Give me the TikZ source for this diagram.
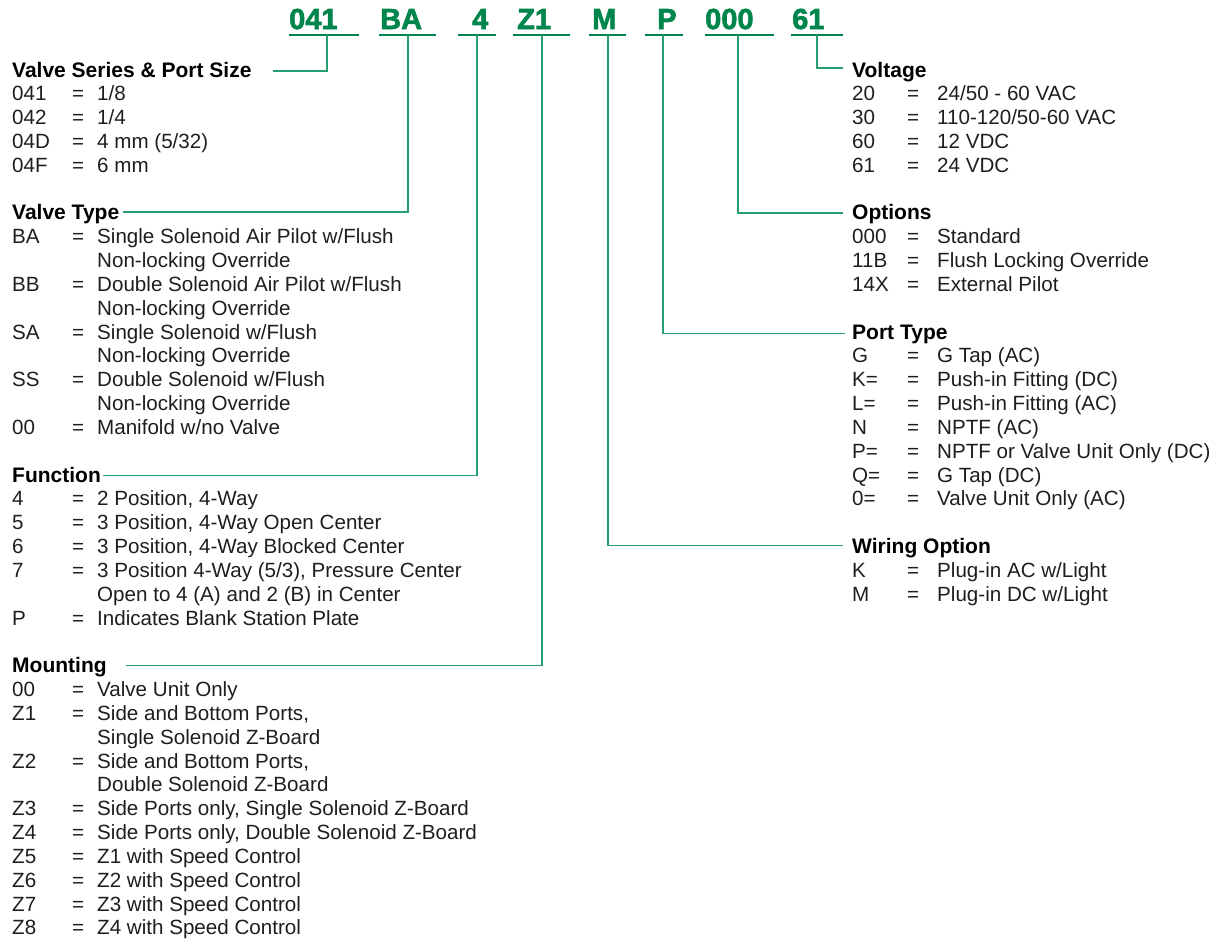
\documentclass[tikz,border=0pt]{standalone}
\usepackage{fontspec}
\setmainfont{Liberation Sans}
\newfontfamily\codefont{Liberation Sans Bold}[FakeBold=2.2]
\definecolor{codegreen}{RGB}{0,133,76}
\definecolor{linegreen}{RGB}{40,158,110}
\definecolor{txtcol}{RGB}{30,30,30}
\newcommand\lrow[3]{\makebox[60pt][l]{#1}\makebox[25pt][l]{#2}#3}
\newcommand\rrow[3]{\makebox[55pt][l]{#1}\makebox[30pt][l]{#2}#3}
\begin{document}
\begin{tikzpicture}[x=1pt,y=-1pt,
  txt/.style={anchor=base west, inner sep=0pt, font=\fontsize{20.6}{24}\selectfont, text=txtcol},
  hdr/.style={anchor=base west, inner sep=0pt, font=\fontsize{21}{24}\selectfont\bfseries, text=black},
  code/.style={anchor=base west, inner sep=0pt, font=\codefont\fontsize{29}{30}\selectfont, text=codegreen},
  uline/.style={draw=codegreen, line width=2.2pt},
  conn/.style={draw=linegreen, line width=1.2pt}]
\useasboundingbox (0,0) rectangle (1209,943);
\def\sl{23.83}
% ---------- top code ----------
\node[code] (k041) at (289,29) {041};
\node[code] (kBA)  at (380,29) {BA};
\node[code] (k4)   at (472,29) {4};
\node[code] (kZ1)  at (517,29) {Z1};
\node[code] (kM)   at (592,29) {M};
\node[code] (kP)   at (657,29) {P};
\node[code] (k000) at (705,29) {000};
\node[code] (k61)  at (792,29) {61};
\draw[uline] (289,35) -- (359,35);
\draw[uline] (379,35) -- (436,35);
\draw[uline] (458,35) -- (496,35);
\draw[uline] (513,35) -- (570,35);
\draw[uline] (589,35) -- (626,35);
\draw[uline] (645,35) -- (683,35);
\draw[uline] (705,35) -- (774,35);
\draw[uline] (791,35) -- (843,35);
\coordinate (v041) at (327,35);
\coordinate (vBA)  at (408,35);
\coordinate (v4)   at (477,35);
\coordinate (vZ1)  at (542,35);
\coordinate (vM)   at (608,35);
\coordinate (vP)   at (663,35);
\coordinate (v000) at (738,35);
\coordinate (v61)  at (817,35);
% ---------- left column ----------
\node[hdr] (hSeries) at (12,{77+\sl*0}) {Valve Series \& Port Size};
\node[txt] (l1) at (12,{77+\sl*1}) {\lrow{041}{=}{1/8}};
\node[txt] (l2) at (12,{77+\sl*2}) {\lrow{042}{=}{1/4}};
\node[txt] (l3) at (12,{77+\sl*3}) {\lrow{04D}{=}{4 mm (5/32)}};
\node[txt] (l4) at (12,{77+\sl*4}) {\lrow{04F}{=}{6 mm}};
\node[hdr] (hType) at (12,{77+\sl*6}) {Valve Type};
\node[txt] (l7)  at (12,{77+\sl*7})  {\lrow{BA}{=}{Single Solenoid Air Pilot w/Flush}};
\node[txt] (l8)  at (97,{77+\sl*8})  {Non-locking Override};
\node[txt] (l9)  at (12,{77+\sl*9})  {\lrow{BB}{=}{Double Solenoid Air Pilot w/Flush}};
\node[txt] (l10) at (97,{77+\sl*10}) {Non-locking Override};
\node[txt] (l11) at (12,{77+\sl*11}) {\lrow{SA}{=}{Single Solenoid w/Flush}};
\node[txt] (l12) at (97,{77+\sl*12}) {Non-locking Override};
\node[txt] (l13) at (12,{77+\sl*13}) {\lrow{SS}{=}{Double Solenoid w/Flush}};
\node[txt] (l14) at (97,{77+\sl*14}) {Non-locking Override};
\node[txt] (l15) at (12,{77+\sl*15}) {\lrow{00}{=}{Manifold w/no Valve}};
\node[hdr] (hFunc) at (12,{77+\sl*17}) {Function};
\node[txt] (l18) at (12,{77+\sl*18}) {\lrow{4}{=}{2 Position, 4-Way}};
\node[txt] (l19) at (12,{77+\sl*19}) {\lrow{5}{=}{3 Position, 4-Way Open Center}};
\node[txt] (l20) at (12,{77+\sl*20}) {\lrow{6}{=}{3 Position, 4-Way Blocked Center}};
\node[txt] (l21) at (12,{77+\sl*21}) {\lrow{7}{=}{3 Position 4-Way (5/3), Pressure Center}};
\node[txt] (l22) at (97,{77+\sl*22}) {Open to 4 (A) and 2 (B) in Center};
\node[txt] (l23) at (12,{77+\sl*23}) {\lrow{P}{=}{Indicates Blank Station Plate}};
\node[hdr] (hMount) at (12,{77+\sl*25}) {Mounting};
\node[txt] (l26) at (12,{77+\sl*26}) {\lrow{00}{=}{Valve Unit Only}};
\node[txt] (l27) at (12,{77+\sl*27}) {\lrow{Z1}{=}{Side and Bottom Ports,}};
\node[txt] (l28) at (97,{77+\sl*28}) {Single Solenoid Z-Board};
\node[txt] (l29) at (12,{77+\sl*29}) {\lrow{Z2}{=}{Side and Bottom Ports,}};
\node[txt] (l30) at (97,{77+\sl*30}) {Double Solenoid Z-Board};
\node[txt] (l31) at (12,{77+\sl*31}) {\lrow{Z3}{=}{Side Ports only, Single Solenoid Z-Board}};
\node[txt] (l32) at (12,{77+\sl*32}) {\lrow{Z4}{=}{Side Ports only, Double Solenoid Z-Board}};
\node[txt] (l33) at (12,{77+\sl*33}) {\lrow{Z5}{=}{Z1 with Speed Control}};
\node[txt] (l34) at (12,{77+\sl*34}) {\lrow{Z6}{=}{Z2 with Speed Control}};
\node[txt] (l35) at (12,{77+\sl*35}) {\lrow{Z7}{=}{Z3 with Speed Control}};
\node[txt] (l36) at (12,{77+\sl*36}) {\lrow{Z8}{=}{Z4 with Speed Control}};
% ---------- right column ----------
\node[hdr] (hVolt) at (852,{77+\sl*0}) {Voltage};
\node[txt] (r1) at (852,{77+\sl*1}) {\rrow{20}{=}{24/50 - 60 VAC}};
\node[txt] (r2) at (852,{77+\sl*2}) {\rrow{30}{=}{110-120/50-60 VAC}};
\node[txt] (r3) at (852,{77+\sl*3}) {\rrow{60}{=}{12 VDC}};
\node[txt] (r4) at (852,{77+\sl*4}) {\rrow{61}{=}{24 VDC}};
\node[hdr] (hOpt) at (852,{77+\sl*6}) {Options};
\node[txt] (r7) at (852,{77+\sl*7}) {\rrow{000}{=}{Standard}};
\node[txt] (r8) at (852,{77+\sl*8}) {\rrow{11B}{=}{Flush Locking Override}};
\node[txt] (r9) at (852,{77+\sl*9}) {\rrow{14X}{=}{External Pilot}};
\node[hdr] (hPort) at (852,{77+\sl*11}) {Port Type};
\node[txt] (r12) at (852,{77+\sl*12}) {\rrow{G}{=}{G Tap (AC)}};
\node[txt] (r13) at (852,{77+\sl*13}) {\rrow{K=}{=}{Push-in Fitting (DC)}};
\node[txt] (r14) at (852,{77+\sl*14}) {\rrow{L=}{=}{Push-in Fitting (AC)}};
\node[txt] (r15) at (852,{77+\sl*15}) {\rrow{N}{=}{NPTF (AC)}};
\node[txt] (r16) at (852,{77+\sl*16}) {\rrow{P=}{=}{NPTF or Valve Unit Only (DC)}};
\node[txt] (r17) at (852,{77+\sl*17}) {\rrow{Q=}{=}{G Tap (DC)}};
\node[txt] (r18) at (852,{77+\sl*18}) {\rrow{0=}{=}{Valve Unit Only (AC)}};
\node[hdr] (hWire) at (852,{77+\sl*20}) {Wiring Option};
\node[txt] (r21) at (852,{77+\sl*21}) {\rrow{K}{=}{Plug-in AC w/Light}};
\node[txt] (r22) at (852,{77+\sl*22}) {\rrow{M}{=}{Plug-in DC w/Light}};
% ---------- connectors ----------
\draw[conn] (v041) |- ([xshift=21pt,yshift=6pt]hSeries.base east);
\draw[conn] (vBA)  |- ([xshift=4pt,yshift=8pt]hType.base east);
\draw[conn] (v4)   |- ([xshift=2pt,yshift=7pt]hFunc.base east);
\draw[conn] (vZ1)  |- ([xshift=19pt,yshift=7pt]hMount.base east);
\draw[conn] (vM)   |- ([xshift=-9pt,yshift=8pt]hWire.base west);
\draw[conn] (vP)   |- ([xshift=-7pt,yshift=6pt]hPort.base west);
\draw[conn] (v000) |- ([xshift=-9pt,yshift=7pt]hOpt.base west);
\draw[conn] (v61)  |- ([xshift=-9pt,yshift=9pt]hVolt.base west);
\end{tikzpicture}
\end{document}
